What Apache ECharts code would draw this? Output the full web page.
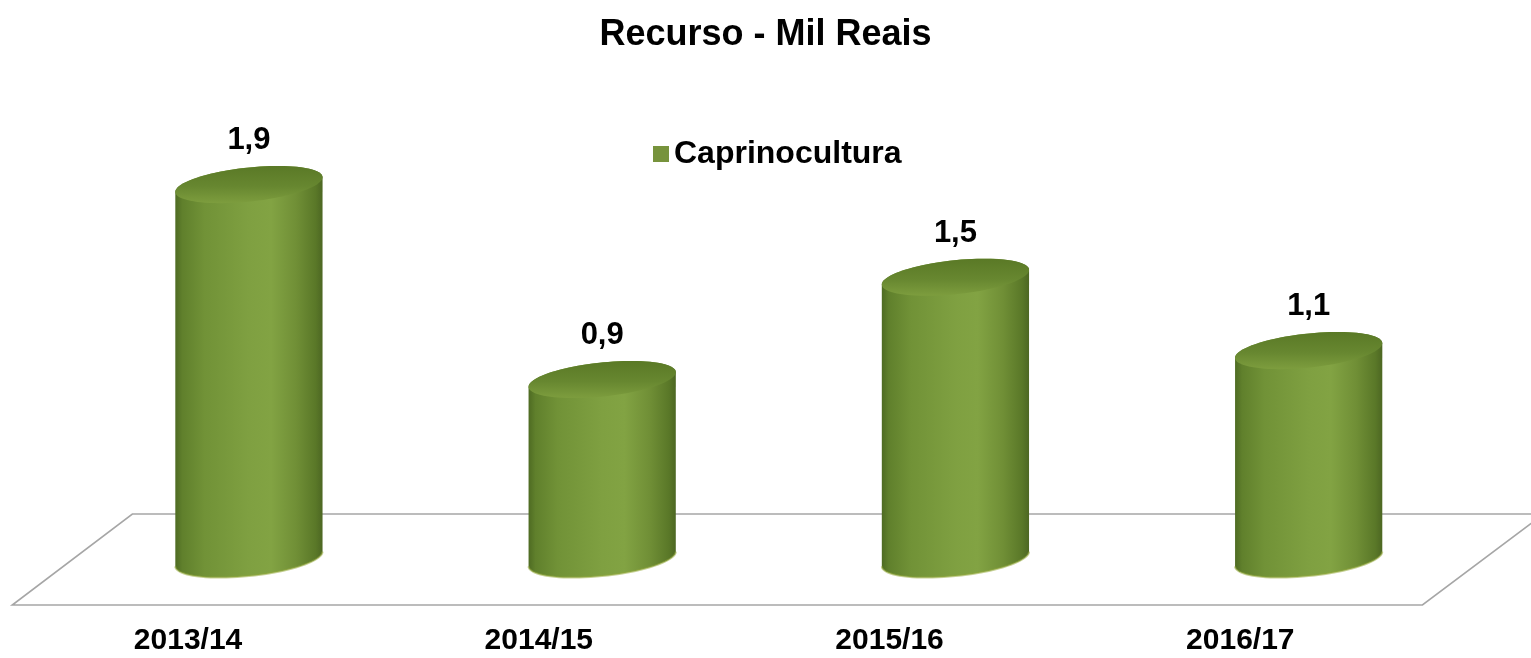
<!DOCTYPE html>
<html>
<head>
<meta charset="utf-8">
<script src="https://cdn.jsdelivr.net/npm/echarts@6/dist/echarts.min.js"></script>
<style>html,body{margin:0;padding:0;background:#fff;}#main{width:1531px;height:658px;}</style>
</head>
<body>
<div id="main"></div>
<script>
const categories = ['2013/14', '2014/15', '2015/16', '2016/17'];
const values = [1.94, 0.93, 1.46, 1.08];
const seriesName = 'Caprinocultura';
const titleText = 'Recurso - Mil Reais';

const FONT = '"Liberation Sans", Arial, sans-serif';
const A = 74, B = 17, PHI = -6 * Math.PI / 180;
const T0 = Math.atan(-B * Math.sin(PHI) / (A * Math.cos(PHI)));
function ell(cx, cy, t) {
  return [cx + A * Math.cos(t) * Math.cos(PHI) - B * Math.sin(t) * Math.sin(PHI),
          cy + A * Math.cos(t) * Math.sin(PHI) + B * Math.sin(t) * Math.cos(PHI)];
}
function arc(cx, cy, ta, tb, n) {
  const pts = [];
  for (let i = 0; i <= n; i++) pts.push(ell(cx, cy, ta + (tb - ta) * i / n));
  return pts;
}
function fmt(v) { return v.toFixed(1).replace('.', ','); }

function renderCylinder(params, api) {
  const idx = api.value(0), v = api.value(1);
  const top = api.coord([idx, v]);
  const base = api.coord([idx, 0]);
  const cx = top[0];
  const body = arc(cx, top[1], T0, T0 - Math.PI, 40).concat(arc(cx, base[1], T0 - Math.PI, T0 - 2 * Math.PI, 40));
  const bodyGrad = new echarts.graphic.LinearGradient(cx - A, 0, cx + A, 0, [
    {offset: 0, color: '#4d6a22'},
    {offset: 0.05, color: '#60802c'},
    {offset: 0.2, color: '#719237'},
    {offset: 0.5, color: '#7fa041'},
    {offset: 0.65, color: '#82a343'},
    {offset: 0.82, color: '#708f36'},
    {offset: 0.95, color: '#5a7828'},
    {offset: 1, color: '#4c6622'}
  ], true);
  const cap = arc(cx, top[1], 0, 2 * Math.PI, 90);
  const capGrad = new echarts.graphic.LinearGradient(0, 0, 0, 1, [
    {offset: 0, color: '#5a7926'},
    {offset: 0.55, color: '#678730'},
    {offset: 1, color: '#7d9d3e'}
  ]);
  const rim = arc(cx, base[1], T0 - Math.PI, T0 - 2 * Math.PI, 40);
  return {
    type: 'group',
    children: [
      {type: 'polygon', shape: {points: body}, style: {fill: bodyGrad}},
      {type: 'polyline', shape: {points: rim}, style: {stroke: 'rgba(150,170,60,0.55)', lineWidth: 2, fill: null}},
      {type: 'polygon', shape: {points: cap}, style: {fill: capGrad}},
      {type: 'text', x: cx, y: top[1] - 44, style: {
        text: fmt(v), align: 'center', verticalAlign: 'middle',
        font: 'bold 31px ' + FONT, fill: '#000'
      }}
    ]
  };
}

function renderFloor(params, api) {
  const first = api.coord([0, 0]);
  const last = api.coord([categories.length - 1, 0]);
  const bw = api.size([1, 0])[0];
  const y0 = first[1];
  const backY = y0 - 45, frontY = y0 + 46;
  const pts = [
    [first[0] - bw * 0.33, backY],
    [last[0] + bw * 0.665, backY],
    [last[0] + bw * 0.322, frontY],
    [first[0] - bw * 0.67, frontY]
  ];
  return {type: 'polygon', shape: {points: pts}, style: {fill: '#fff', stroke: '#a6a6a6', lineWidth: 1.6}};
}

const chart = echarts.init(document.getElementById('main'));
chart.setOption({
  animation: false,
  backgroundColor: '#fff',
  title: {
    text: titleText, left: 'center', top: 12,
    textStyle: {fontFamily: FONT, fontSize: 36, fontWeight: 'bold', color: '#000'}
  },
  legend: {
    data: [seriesName], left: 648, top: 133, icon: 'rect', itemWidth: 16, itemHeight: 16, itemGap: 4,
    textStyle: {fontFamily: FONT, fontSize: 32, fontWeight: 'bold', color: '#000'}
  },
  grid: [
    {left: 72.3, width: 1413, top: 173, bottom: 99},
    {left: 12.7, width: 1403, top: 173, bottom: 99}
  ],
  xAxis: [
    {type: 'category', data: categories, gridIndex: 0, axisLine: {show: false}, axisTick: {show: false}, axisLabel: {show: false}},
    {type: 'category', data: categories, gridIndex: 1, axisLine: {show: false}, axisTick: {show: false},
      axisLabel: {margin: 67, fontFamily: FONT, fontSize: 30, fontWeight: 'bold', color: '#000'}}
  ],
  yAxis: [
    {type: 'value', min: 0, max: 2, gridIndex: 0, show: false},
    {type: 'value', min: 0, max: 2, gridIndex: 1, show: false}
  ],
  series: [
    {type: 'custom', name: 'floor', renderItem: renderFloor, data: [[0, 0]], silent: true, z: 1, xAxisIndex: 0, yAxisIndex: 0},
    {type: 'custom', name: seriesName, renderItem: renderCylinder, itemStyle: {color: '#77933c'},
      data: values.map((v, i) => [i, v]), encode: {x: 0, y: 1}, z: 2, xAxisIndex: 0, yAxisIndex: 0}
  ]
});
</script>
</body>
</html>
